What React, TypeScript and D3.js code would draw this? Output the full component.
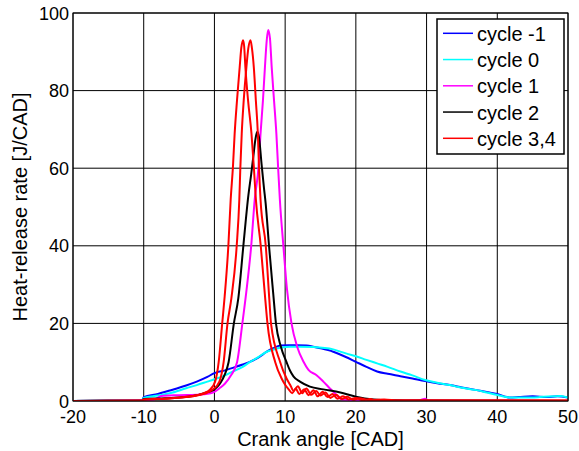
import React from "react";
import * as d3 from "d3";

type Pt = [number, number];

const xTicks = [-20, -10, 0, 10, 20, 30, 40, 50];
const yTicks = [0, 20, 40, 60, 80, 100];

const seriesNames = ["cycle -1", "cycle 0", "cycle 1", "cycle 2", "cycle 3,4"];
const seriesColors = ["#0000ff", "#00ffff", "#ff00ff", "#000000", "#ff0000"];

const cycleMinus1: Pt[] = [
  [-20, 0], [-15, 0.1], [-10.2, 0.2], [-10, 1.0], [-8, 1.8], [-6.3, 2.7], [-4, 4.0], [-2.5, 5.0],
  [-1, 6.2], [0, 7.2], [1.5, 7.9], [2.7, 8.6], [4, 9.4], [5, 10.1], [6.2, 11.2], [7.4, 12.7],
  [8.3, 13.6], [9.3, 14.3], [10.5, 14.4], [11.7, 14.4], [13, 14.3], [14, 14.0], [15, 13.6],
  [16.8, 12.7], [18.5, 11.4], [20, 10.1], [21.5, 8.8], [23, 7.6], [24.5, 7.0], [26.3, 6.4],
  [28, 5.8], [29.8, 5.15], [31.5, 4.6], [33.3, 4.1], [35, 3.5], [37.1, 2.8], [38.5, 2.3],
  [40, 1.8], [41, 1.2], [41.8, 0.9], [43, 1.0], [45, 1.2], [47, 1.0], [48.5, 1.2], [50, 0.9],
];

const cycle0: Pt[] = [
  [-20, 0], [-15, 0.1], [-10.2, 0.2], [-10, 0.8], [-8, 1.4], [-6.3, 2.0], [-4, 3.3], [-2.5, 4.1],
  [-1, 5.0], [0, 5.6], [1.5, 6.6], [2.7, 7.7], [4, 8.8], [5, 10.0], [6.2, 11.3], [7.4, 12.7],
  [8.3, 13.2], [9.3, 13.7], [10.7, 14.0], [12, 14.0], [14, 13.9], [16.8, 13.3], [18.7, 12.2],
  [19.9, 11.6], [21.5, 10.6], [23, 9.7], [24.5, 8.8], [26.3, 7.6], [28, 6.6], [29.8, 5.4],
  [31.5, 4.7], [33.3, 4.1], [35, 3.4], [37.1, 2.8], [38.5, 2.2], [39.9, 1.6], [41.8, 0.9],
  [44, 0.9], [46, 1.0], [49, 1.3], [50, 0.9],
];

const cycle1: Pt[] = [
  [-20, 0], [-10, 0.2], [-8.5, 0.4], [-7.5, 1.3], [-5, 1.5], [-2, 1.7], [-0.2, 2.2], [0.8, 3.4],
  [1.5, 4.5], [2.3, 6.5], [3.2, 10], [3.95, 20], [4.5, 28], [5.2, 40], [5.7, 52], [6.24, 60.4],
  [6.52, 68.9], [6.86, 77.4], [7.14, 86], [7.4, 93], [7.6, 95.6], [7.85, 93.5], [8.1, 86],
  [8.43, 77.4], [8.76, 68.9], [9.0, 60.4], [9.25, 52], [9.75, 40], [10.25, 29], [10.9, 20],
  [11.7, 14], [12.6, 10.1], [13.3, 8], [14.4, 6.7], [15.4, 5.0], [16.3, 3.3], [17.3, 1.5],
  [18, 0.4], [20, 0.2], [25, 0.1], [29, 0.2], [29.8, 0.6], [30.2, 0.1], [50, 0],
];

const cycle2: Pt[] = [
  [-20, 0], [-10.2, 0.1], [-10, 0.5], [-7, 0.7], [-5, 0.9], [-3, 1.3], [-1, 2.3], [0, 3.0],
  [0.8, 4.5], [1.5, 7], [2.0, 10], [2.75, 20], [3.38, 26.5], [4.09, 40], [4.8, 53], [5.2, 58.5],
  [5.5, 63], [5.8, 67.5], [6.05, 69.4], [6.3, 68], [6.67, 61], [7.0, 55], [7.24, 51], [7.72, 40],
  [8.3, 28], [8.7, 20], [9.4, 14], [10.2, 10], [10.7, 7.8], [11.2, 6.3], [12.1, 5.0],
  [13.5, 3.7], [15.4, 3.0], [17.8, 2.2], [20, 1.1], [22.5, 0.4], [25, 0.2], [30, 0.1], [50, 0],
];

const cycle3: Pt[] = [
  [-20, 0], [-10.2, 0.1], [-10, 0.3], [-8, 0.5], [-4, 1.0], [-1.5, 2.0], [-0.6, 3.0], [0.1, 5],
  [0.6, 10], [1.1, 20], [1.45, 27], [1.97, 40], [2.3, 52], [2.62, 60.4], [2.86, 68.9],
  [3.19, 77.4], [3.57, 86], [3.8, 91], [4.05, 93], [4.2, 91.5], [4.38, 86], [4.76, 77.4],
  [5.24, 68.9], [5.57, 60.4], [5.86, 52], [6.55, 40], [7.2, 26], [7.5, 20], [8.6, 10],
  [9.5, 5.8], [10.0, 4.2], [10.5, 3.0], [11, 2.0], [11.5, 3.2], [12.0, 1.8], [12.7, 3.0],
  [13.3, 1.5], [14.0, 2.8], [14.6, 1.2], [15.3, 2.4], [16.0, 1.0], [16.7, 1.8], [17.4, 0.6],
  [18.2, 1.2], [19, 0.4], [20, 0.8], [21, 0.2], [22, 0.5], [23, 0.1], [50, 0.1],
];

const cycle4: Pt[] = [
  [-20, 0], [-10.2, 0.1], [-10, 0.4], [-7, 0.6], [-4, 1.1], [-1.2, 2.0], [-0.2, 3.0], [0.7, 5],
  [1.3, 10], [1.85, 20], [2.4, 26.5], [3.15, 40], [3.52, 51.9], [3.67, 60.4], [3.86, 68.9],
  [4.14, 77.4], [4.52, 86], [4.8, 91], [5.1, 93], [5.3, 91], [5.57, 86], [5.86, 77.4],
  [6.14, 68.9], [6.3, 60.4], [6.52, 51.9], [7.26, 40], [7.77, 26], [8.0, 20], [9.3, 10],
  [10.2, 5.8], [10.7, 4.2], [11.2, 2.6], [11.8, 3.8], [12.4, 2.0], [13, 3.2], [13.7, 1.6],
  [14.4, 2.6], [15, 1.4], [15.7, 2.2], [16.4, 0.8], [17.2, 1.6], [18, 0.5], [18.8, 1.1],
  [19.6, 0.3], [20.5, 0.7], [22, 0.2], [24, 0.4], [26, 0.1], [50, 0.1],
];

const seriesData: Pt[][][] = [[cycleMinus1], [cycle0], [cycle1], [cycle2], [cycle3, cycle4]];

const W = 579;
const H = 451;
const L = 73;
const R = 568;
const T = 13;
const B = 401;
const FONT = "'Liberation Sans', Arial, Helvetica, sans-serif";

export default function App() {
  const x = d3.scaleLinear().domain([-20, 50]).range([L, R]);
  const y = d3.scaleLinear().domain([0, 100]).range([B, T]);
  const line = d3
    .line<Pt>()
    .x((d) => x(d[0]))
    .y((d) => y(d[1]))
    .curve(d3.curveMonotoneX);

  const legX = 437;
  const legY = 19;
  const legW = 127;
  const legH = 135;
  const rowStep = 26.25;

  return (
    <svg
      width={W}
      height={H}
      style={{ position: "absolute", left: 0, top: 0, background: "#fff" }}
      fontFamily={FONT}
    >
      <rect x={0} y={0} width={W} height={H} fill="#fff" />
      <defs>
        <clipPath id="plotClip">
          <rect x={L} y={T} width={R - L} height={B - T} />
        </clipPath>
      </defs>
      {xTicks.map((t) => (
        <line key={"gx" + t} x1={x(t)} x2={x(t)} y1={T} y2={B} stroke="#000" strokeWidth={1} />
      ))}
      {yTicks.map((t) => (
        <line key={"gy" + t} x1={L} x2={R} y1={y(t)} y2={y(t)} stroke="#000" strokeWidth={1} />
      ))}
      <g clipPath="url(#plotClip)">
        {seriesData.map((group, i) =>
          group.map((pts, j) => (
            <path
              key={i + "-" + j}
              d={line(pts) || ""}
              fill="none"
              stroke={seriesColors[i]}
              strokeWidth={2}
              strokeLinejoin="round"
            />
          ))
        )}
      </g>
      <rect x={L} y={T} width={R - L} height={B - T} fill="none" stroke="#000" strokeWidth={1} />
      {yTicks.map((t) => (
        <text key={"ty" + t} x={L - 4} y={y(t) + 6.5} textAnchor="end" fontSize={18} fill="#000">
          {t}
        </text>
      ))}
      {xTicks.map((t) => (
        <text key={"tx" + t} x={x(t)} y={423} textAnchor="middle" fontSize={18} fill="#000">
          {t}
        </text>
      ))}
      <text x={(L + R) / 2} y={446} textAnchor="middle" fontSize={20} fill="#000">
        Crank angle [CAD]
      </text>
      <text
        transform={`translate(27,${(T + B) / 2}) rotate(-90)`}
        textAnchor="middle"
        fontSize={20}
        fill="#000"
      >
        Heat-release rate [J/CAD]
      </text>
      <rect x={legX} y={legY} width={legW} height={legH} fill="#fff" stroke="#000" strokeWidth={1.5} />
      {seriesNames.map((name, i) => {
        const ly = 33.3 + i * rowStep;
        return (
          <g key={name}>
            <line x1={443} x2={473} y1={ly} y2={ly} stroke={seriesColors[i]} strokeWidth={1.5} />
            <text x={477} y={ly + 7.5} fontSize={20} fill="#000">
              {name}
            </text>
          </g>
        );
      })}
    </svg>
  );
}
